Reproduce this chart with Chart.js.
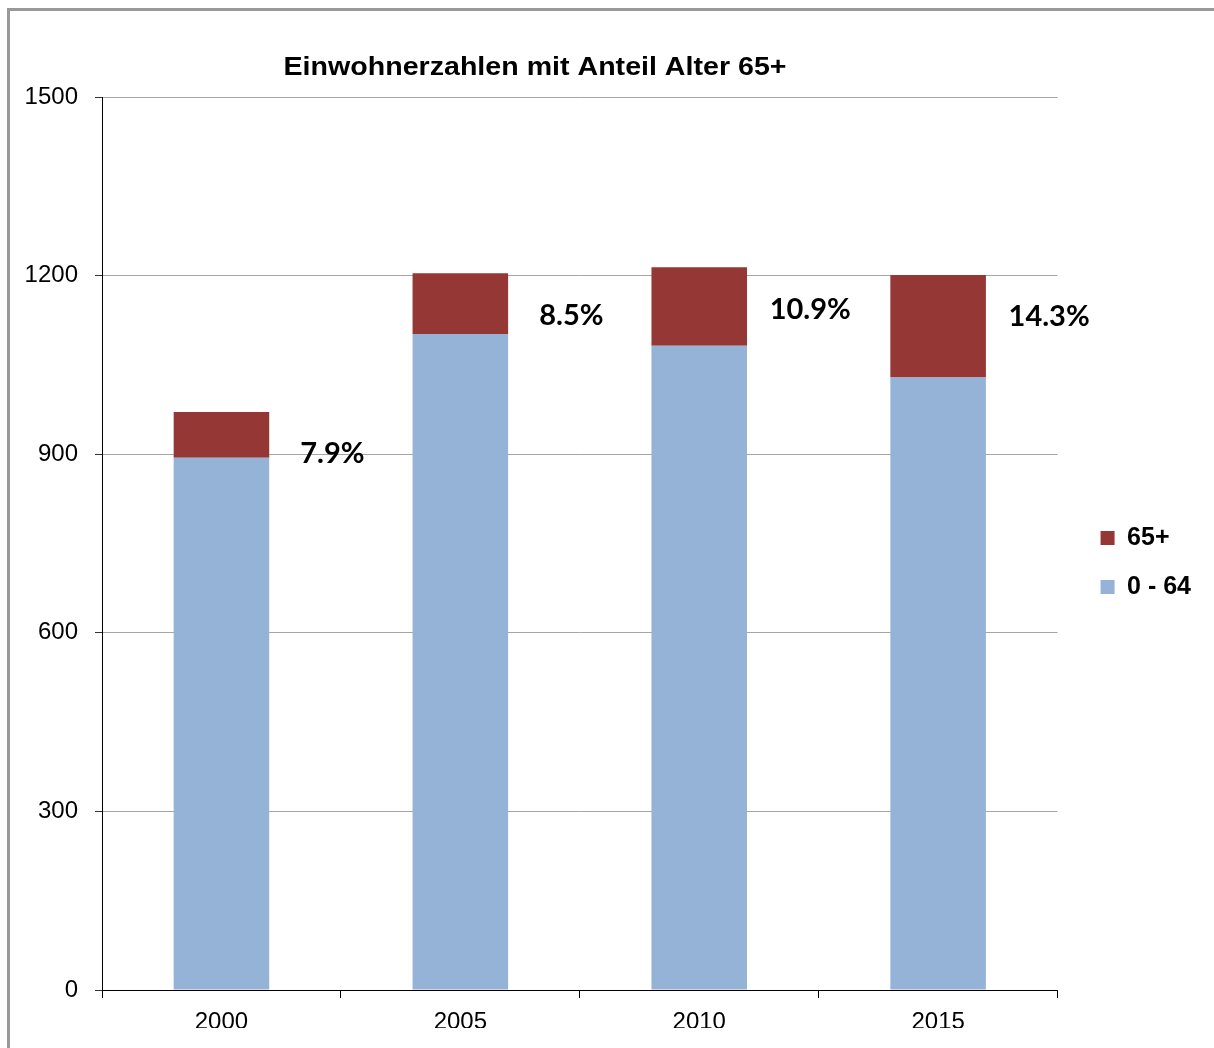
<!DOCTYPE html>
<html>
<head>
<meta charset="utf-8">
<script src="https://cdn.jsdelivr.net/npm/chart.js@4.4.1/dist/chart.umd.min.js"></script>
<style>
  html, body { margin: 0; padding: 0; background: #fff; overflow: hidden; }
  #frame { position: absolute; left: 7px; top: 8px; width: 1400px; height: 1200px; border: 3px solid #999; }
  #myChart { position: absolute; left: 0; top: 0; }
</style>
</head>
<body>
<div id="frame"></div>
<canvas id="myChart" width="1214" height="1048"></canvas>
<script>
const years = ['2000', '2005', '2010', '2015'];
const young = [894, 1102, 1082, 1029];
const old = [77, 102, 132, 172];
const shareLabels = ['7.9%', '8.5%', '10.9%', '14.3%'];
const yTicks = [0, 300, 600, 900, 1200, 1500];

const titleText = 'Einwohnerzahlen mit Anteil Alter 65+';

// title and the percent labels next to each bar (text is a bit wider in the original)
const extras = {
  id: 'extras',
  afterDraw(chart) {
    const ctx = chart.ctx;
    ctx.save();
    ctx.fillStyle = '#000';
    ctx.textAlign = 'center';
    ctx.textBaseline = 'middle';

    ctx.save();
    ctx.translate(535, 68);
    ctx.scale(1.1, 1);
    ctx.font = 'bold 26px "Liberation Sans", Arial, sans-serif';
    ctx.fillText(titleText, 0, 0);
    ctx.restore();

    ctx.font = 'bold 29px Lato, "Liberation Sans", sans-serif';
    const meta = chart.getDatasetMeta(1);
    meta.data.forEach((bar, i) => {
      ctx.fillText(shareLabels[i], bar.x + 111, bar.y + 42);
    });
    ctx.restore();
  }
};

let load = () => {
  const ctx = document.getElementById('myChart');
  const dataset = {
    labels: years,
    datasets: [{
      label: '0 - 64',
      data: young,
      backgroundColor: '#95B3D7',
      barPercentage: 0.4,
      categoryPercentage: 1
    }, {
      label: '65+',
      data: old,
      backgroundColor: '#953735',
      barPercentage: 0.4,
      categoryPercentage: 1
    }]
  };
  const config = {
    type: 'bar',
    data: dataset,
    plugins: [extras],
    options: {
      responsive: false,
      animation: false,
      layout: { padding: { left: 0, top: 97, right: 13, bottom: 20 } },
      plugins: {
        title: { display: false },
        tooltip: { enabled: false },
        legend: {
          position: 'right',
          reverse: true,
          labels: {
            boxWidth: 14,
            boxHeight: 14,
            padding: 24,
            color: '#000',
            font: { family: '"Liberation Sans", Arial, sans-serif', size: 25, weight: 'bold' }
          }
        }
      },
      scales: {
        x: {
          stacked: true,
          afterFit: (s) => { s.height = 38; },
          grid: { offset: true, drawOnChartArea: false, tickLength: 8, color: '#000' },
          border: { color: '#000', width: 1 },
          ticks: {
            color: '#000',
            padding: 10,
            font: { family: '"Liberation Sans", Arial, sans-serif', size: 24 }
          }
        },
        y: {
          stacked: true,
          min: 0,
          max: 1500,
          afterFit: (s) => { s.width = 102; },
          afterBuildTicks: (s) => { s.ticks = yTicks.map(v => ({ value: v })); },
          grid: { color: '#a6a6a6', tickLength: 7, tickColor: '#333' },
          border: { color: '#000', width: 1 },
          ticks: {
            color: '#000',
            padding: 17,
            callback: (v) => String(v),
            font: { family: '"Liberation Sans", Arial, sans-serif', size: 24 }
          }
        },
        gap: {
          position: 'right',
          display: true,
          afterFit: (s) => { s.width = 19; },
          grid: { display: false },
          border: { display: false },
          ticks: { display: false }
        }
      }
    }
  };
  const chart = new Chart(ctx, config);
};

load();
</script>
</body>
</html>
